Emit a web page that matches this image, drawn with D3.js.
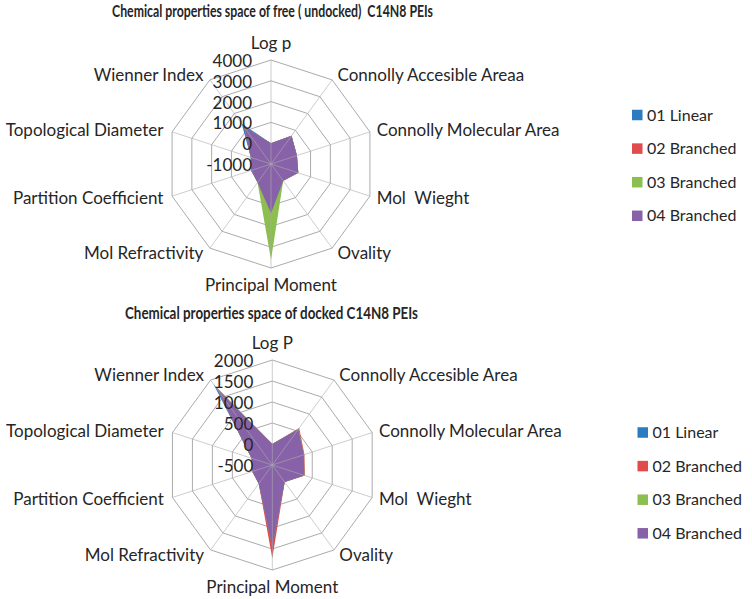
<!DOCTYPE html>
<html>
<head>
<meta charset="utf-8">
<script src="https://cdn.jsdelivr.net/npm/d3@7/dist/d3.min.js"></script>
<style>
  body { margin: 0; background: #fff; }
  text { font-family: Lato, "Liberation Sans", sans-serif; fill: #262626; white-space: pre; }
</style>
</head>
<body>
<svg width="752" height="599"></svg>
<script>
// axis names, clockwise from the top
var freeAxes = ["Log p", "Connolly Accesible Areaa", "Connolly Molecular Area", "Mol  Wieght", "Ovality",
  "Principal Moment", "Mol Refractivity", "Partition Coefficient", "Topological Diameter", "Wienner Index"];
var dockedAxes = ["Log P", "Connolly Accesible Area", "Connolly Molecular Area", "Mol  Wieght", "Ovality",
  "Principal Moment", "Mol Refractivity", "Partition Coefficient", "Topological Diameter", "Wienner Index"];

var seriesNames = ["01 Linear", "02 Branched", "03 Branched", "04 Branched"];
var seriesColors = ["#2A7BC0", "#E04B4B", "#8CBE50", "#8862A8"];

// free (undocked) values
var free01 = [1, 680, 310, 380, 1.5, 1400, 100, 0, 20, 1400];
var free02 = [1, 680, 310, 380, 1.5, 1400, 100, 0, 20, 1200];
var free03 = [1, 685, 312, 382, 1.5, 3600, 100, 0, 20, 1200];
var free04 = [1, 680, 310, 380, 1.5, 1370, 100, 0, 20, 1200];
var freeTicks = [-1000, 0, 1000, 2000, 3000, 4000];

// docked values
var docked01 = [0, 560, 290, 300, 1.5, 1450, 50, 0, 20, 1880];
var docked02 = [0, 590, 305, 315, 1.5, 1720, 50, 0, 20, 1730];
var docked03 = [0, 570, 295, 305, 1.5, 1450, 50, 0, 20, 1730];
var docked04 = [0, 555, 290, 300, 1.5, 1460, 50, 0, 20, 1730];
var dockedTicks = [-500, 0, 500, 1000, 1500, 2000];

var svg = d3.select("svg");

drawRadar({
  title: "Chemical properties space of free ( undocked)  C14N8 PEIs",
  titleX: 112, titleY: 16.5, titleW: 321,
  cx: 271, cy: 164, radius: 104,
  axes: freeAxes, ticks: freeTicks,
  series: [free01, free02, free03, free04],
  legendX: 632, legendY: 115
});

drawRadar({
  title: "Chemical properties space of docked C14N8 PEIs",
  titleX: 125, titleY: 319, titleW: 293,
  cx: 272.3, cy: 465, radius: 105,
  axes: dockedAxes, ticks: dockedTicks,
  series: [docked01, docked02, docked03, docked04],
  legendX: 637.5, legendY: 432.5
});

function drawRadar(o) {
  var n = o.axes.length;
  var step = 2 * Math.PI / n;
  var r = d3.scaleLinear()
    .domain(d3.extent(o.ticks))
    .range([0, o.radius]);

  var g = svg.append("g")
    .attr("transform", "translate(" + o.cx + "," + o.cy + ")");

  // Calibri bold is narrow, so squeeze the title to its width
  svg.append("text")
    .attr("x", o.titleX)
    .attr("y", o.titleY)
    .attr("font-size", 17)
    .attr("font-weight", "bold")
    .attr("fill", "#000")
    .attr("textLength", o.titleW)
    .attr("lengthAdjust", "spacingAndGlyphs")
    .text(o.title);

  // rings
  var ring = d3.lineRadial()
    .angle(function (d, i) { return i * step; })
    .radius(function (d) { return r(d); })
    .curve(d3.curveLinearClosed);

  g.selectAll(".ring")
    .data(o.ticks.slice(1))
    .enter().append("path")
    .attr("class", "ring")
    .attr("d", function (t) { return ring(d3.range(n).map(function () { return t; })); })
    .attr("fill", "none")
    .attr("stroke", "#ABABAB")
    .attr("stroke-width", 1);

  // series, first one at the back
  var area = d3.lineRadial()
    .angle(function (d, i) { return i * step; })
    .radius(function (d) { return r(d); })
    .curve(d3.curveLinearClosed);

  g.selectAll(".series")
    .data(o.series)
    .enter().append("path")
    .attr("class", "series")
    .attr("d", function (d) { return area(d); })
    .attr("fill", function (d, i) { return seriesColors[i]; })
    .attr("stroke", "none");

  // spokes
  g.selectAll(".spoke")
    .data(o.axes)
    .enter().append("line")
    .attr("class", "spoke")
    .attr("x1", 0).attr("y1", 0)
    .attr("x2", function (d, i) { return o.radius * Math.sin(i * step); })
    .attr("y2", function (d, i) { return -o.radius * Math.cos(i * step); })
    .attr("stroke", "#ABABAB")
    .attr("stroke-opacity", 0.6)
    .attr("stroke-width", 1);

  // axis names
  g.selectAll(".axis-label")
    .data(o.axes)
    .enter().append("text")
    .attr("class", "axis-label")
    .attr("font-size", 17)
    .attr("dy", "0.35em")
    .attr("text-anchor", function (d, i) {
      var s = Math.sin(i * step);
      return s > 0.1 ? "start" : (s < -0.1 ? "end" : "middle");
    })
    .attr("x", function (d, i) {
      var s = Math.sin(i * step);
      var off = s > 0.1 ? 3 + 4 * s : (s < -0.1 ? -(3 - 6 * s) : 0);
      return o.radius * s + off;
    })
    .attr("y", function (d, i) {
      var s = Math.sin(i * step), c = Math.cos(i * step);
      var k = Math.abs(s) < 0.1 ? 17 : 6;
      return -o.radius * c - c * k;
    })
    .text(function (d) { return d; });

  // tick labels
  g.selectAll(".tick-label")
    .data(o.ticks)
    .enter().append("text")
    .attr("class", "tick-label")
    .attr("font-size", 17)
    .attr("text-anchor", "end")
    .attr("dy", "0.35em")
    .attr("x", -19)
    .attr("y", function (t) { return -r(t) + 1; })
    .text(function (t) { return t; });

  // legend
  var leg = svg.selectAll(null)
    .data(seriesNames)
    .enter().append("g")
    .attr("transform", function (d, i) {
      return "translate(" + o.legendX + "," + (o.legendY + i * 33.6) + ")";
    });

  leg.append("rect")
    .attr("x", 0).attr("y", -5.25)
    .attr("width", 10.5).attr("height", 10.5)
    .attr("fill", function (d, i) { return seriesColors[i]; });

  leg.append("text")
    .attr("x", 15)
    .attr("dy", "0.35em")
    .attr("font-size", 16)
    .text(function (d) { return d; });
}
</script>
</body>
</html>
